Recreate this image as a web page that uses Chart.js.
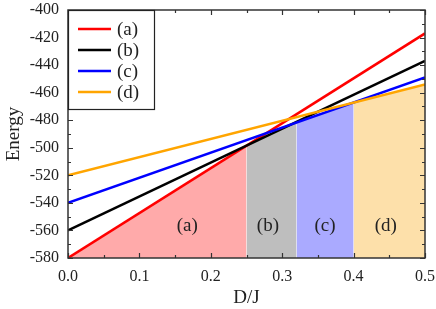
<!DOCTYPE html>
<html>
<head>
<meta charset="utf-8">
<script src="https://cdn.jsdelivr.net/npm/chart.js@4.4.1/dist/chart.umd.min.js"></script>
<style>
  html, body { margin: 0; padding: 0; background: #fff; }
  #wrap { width: 436px; height: 309px; }
</style>
</head>
<body>
<div id="wrap"><canvas id="energyChart" width="436" height="309"></canvas></div>
<script>
// data
const xEnds = [0, 0.5];
const seriesNames = ['(a)', '(b)', '(c)', '(d)'];
const seriesColors = ['#ff0000', '#000000', '#0000ff', '#ffa500'];
const energyA = [-580, -417];
const energyB = [-560, -437];
const energyC = [-540, -449];
const energyD = [-520, -454];

// shaded phases: x limits and the energy on top of each region
const phaseX = [[0, 0.25], [0.25, 0.32], [0.32, 0.4], [0.4, 0.5]];
const phaseTop = [[-580, -498.5], [-498.5, -481.3], [-481.3, -467.2], [-467.2, -454]];
const phaseColors = ['#ffaaaa', '#bebebe', '#aaaaff', '#fde0aa'];
const phaseLabels = ['(a)', '(b)', '(c)', '(d)'];
const phaseLabelPos = [[0.167, -557], [0.28, -557], [0.36, -557], [0.445, -557]];

const yMin = -580, yMax = -400;
const serif = "'Liberation Serif', 'DejaVu Serif', serif";

const lines = [energyA, energyB, energyC, energyD];
const datasets = [];
lines.forEach((vals, i) => {
    datasets.push({
        label: seriesNames[i],
        data: xEnds.map((x, k) => ({ x: x, y: vals[k] })),
        borderColor: seriesColors[i],
        borderWidth: 2.5,
        pointRadius: 0,
        fill: false,
        order: 4 - i
    });
});
phaseX.forEach((xs, i) => {
    datasets.push({
        label: 'phase ' + phaseLabels[i],
        data: xs.map((x, k) => ({ x: x, y: phaseTop[i][k] })),
        borderWidth: 0,
        borderColor: 'rgba(0,0,0,0)',
        backgroundColor: phaseColors[i],
        pointRadius: 0,
        fill: 'start',
        order: 10
    });
});

// frame, inward ticks, region labels and legend box
const decorPlugin = {
    id: 'decor',
    afterDatasetsDraw(chart) {
        const ctx = chart.ctx;
        const a = chart.chartArea;
        const xs = chart.scales.x, ys = chart.scales.y;
        ctx.save();

        // region labels
        ctx.fillStyle = '#222';
        ctx.font = '19px ' + serif;
        ctx.textAlign = 'center';
        ctx.textBaseline = 'middle';
        phaseLabels.forEach((t, i) => {
            ctx.fillText(t, xs.getPixelForValue(phaseLabelPos[i][0]), ys.getPixelForValue(phaseLabelPos[i][1]));
        });

        // ticks
        ctx.strokeStyle = '#333';
        ctx.lineWidth = 1.2;
        ctx.beginPath();
        for (let v = 0; v <= 10; v++) {
            const px = Math.round(xs.getPixelForValue(v * 0.05)) + 0.5;
            const len = v % 2 === 0 ? 5 : 3;
            ctx.moveTo(px, a.bottom); ctx.lineTo(px, a.bottom - len);
            ctx.moveTo(px, a.top); ctx.lineTo(px, a.top + len);
        }
        for (let v = yMin; v <= yMax; v += 10) {
            const py = Math.round(ys.getPixelForValue(v)) + 0.5;
            const len = (v - yMin) % 20 === 0 ? 5 : 3;
            ctx.moveTo(a.left, py); ctx.lineTo(a.left + len, py);
            ctx.moveTo(a.right, py); ctx.lineTo(a.right - len, py);
        }
        ctx.stroke();

        // frame
        ctx.lineWidth = 1.5;
        ctx.strokeRect(a.left, a.top, a.right - a.left, a.bottom - a.top);

        // legend
        const lx = a.left, ly = a.top, lw = 86, lh = 99;
        ctx.fillStyle = '#fff';
        ctx.fillRect(lx, ly, lw, lh);
        ctx.strokeStyle = '#222';
        ctx.lineWidth = 1.2;
        ctx.strokeRect(lx + 0.5, ly + 0.5, lw, lh);
        ctx.font = '19px ' + serif;
        ctx.textAlign = 'left';
        seriesNames.forEach((name, i) => {
            const ry = ly + 19 + i * 21;
            ctx.strokeStyle = seriesColors[i];
            ctx.lineWidth = 2.5;
            ctx.beginPath();
            ctx.moveTo(lx + 10, ry); ctx.lineTo(lx + 43, ry);
            ctx.stroke();
            ctx.fillStyle = '#222';
            ctx.fillText(name, lx + 49, ry + 1);
        });
        ctx.restore();
    }
};

new Chart(document.getElementById('energyChart').getContext('2d'), {
    type: 'line',
    data: { datasets: datasets },
    options: {
        responsive: false,
        animation: false,
        layout: { padding: { top: 10, right: 11, left: 0, bottom: 0 } },
        plugins: {
            legend: { display: false },
            tooltip: { enabled: false }
        },
        scales: {
            x: {
                type: 'linear',
                min: 0,
                max: 0.5,
                afterFit: (s) => { s.height = 51; s.paddingLeft = 0; s.paddingRight = 0; },
                afterBuildTicks: (s) => { s.ticks = [0, 0.1, 0.2, 0.3, 0.4, 0.5].map(v => ({ value: v })); },
                grid: { display: false, drawTicks: false },
                border: { display: false },
                ticks: {
                    color: '#222',
                    padding: 9,
                    maxRotation: 0,
                    font: { family: serif, size: 16 },
                    callback: (v) => Number(v).toFixed(1)
                },
                title: {
                    display: true,
                    text: 'D/J',
                    color: '#222',
                    font: { family: serif, size: 19 },
                    padding: { top: 2, bottom: 0 }
                }
            },
            y: {
                type: 'linear',
                min: yMin,
                max: yMax,
                afterFit: (s) => { s.width = 68; s.paddingTop = 0; s.paddingBottom = 0; },
                grid: { display: false, drawTicks: false },
                border: { display: false },
                ticks: {
                    stepSize: 20,
                    color: '#222',
                    padding: 9,
                    font: { family: serif, size: 16 }
                },
                title: {
                    display: true,
                    text: 'Energy',
                    color: '#222',
                    font: { family: serif, size: 19 },
                    padding: { top: 3, bottom: 2 }
                }
            }
        }
    },
    plugins: [decorPlugin]
});
</script>
</body>
</html>
